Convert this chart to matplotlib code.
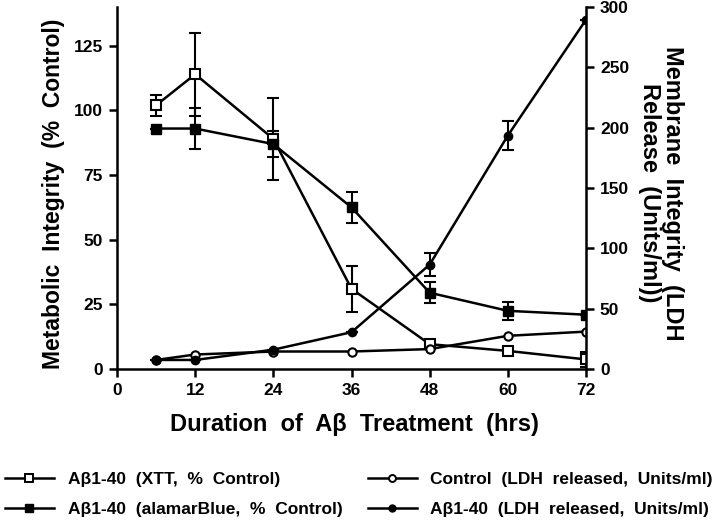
import matplotlib
matplotlib.use("Agg")
import matplotlib.pyplot as plt
from matplotlib.lines import Line2D

plt.rcParams['font.family'] = ['Liberation Sans', 'DejaVu Sans']
plt.rcParams['font.weight'] = 'bold'

hours = [6, 12, 24, 36, 48, 60, 72]

# metabolic integrity, % control (left axis)
xtt = [102, 114, 89, 31, 9.6, 7.0, 3.7]
xtt_err = [4, 16, 16, 9, 0, 0, 3]
alamar = [93, 93, 87, 62.5, 29.5, 22.5, 21]
alamar_err = [0, 8, 5, 6, 4, 3.5, 0]

# LDH released, units/ml (right axis)
ldh_ctrl = [7.5, 12, 14.5, 14.5, 16.5, 27.5, 31]
ldh_ab = [7.5, 7.5, 16, 30.5, 86.5, 193.5, 289.5]
ldh_ab_err = [0, 0, 0, 0, 9.5, 12, 0]

fig = plt.figure(figsize=(7.2, 5.24), dpi=100)
ax = fig.add_axes([0.1625, 0.2958, 0.6514, 0.6908])
ax2 = ax.twinx()

lw = 1.8
ax.errorbar(hours, xtt, yerr=xtt_err, color='black', lw=lw, marker='s', ms=7,
            mfc='white', mec='black', mew=1.5, capsize=4, elinewidth=1.5, capthick=1.5)
ax.errorbar(hours, alamar, yerr=alamar_err, color='black', lw=lw, marker='s', ms=7,
            mfc='black', mec='black', capsize=4, elinewidth=1.5, capthick=1.5)
ax2.plot(hours, ldh_ctrl, color='black', lw=lw, marker='o', ms=6,
         mfc='white', mec='black', mew=1.5)
ax2.errorbar(hours, ldh_ab, yerr=ldh_ab_err, color='black', lw=lw, marker='o', ms=6,
             mfc='black', mec='black', capsize=4, elinewidth=1.5, capthick=1.5)

ax.set_xlim(0, 72)
ax.set_ylim(0, 140)
ax2.set_ylim(0, 300)
ax.set_xticks([0, 12, 24, 36, 48, 60, 72])
ax.set_yticks([0, 25, 50, 75, 100, 125])
ax2.set_yticks([0, 50, 100, 150, 200, 250, 300])

for a in (ax, ax2):
    a.spines['top'].set_visible(False)
    for s in a.spines.values():
        s.set_linewidth(1.8)
    a.tick_params(width=1.8, length=6, labelsize=12.5, pad=4)
ax2.spines['left'].set_visible(False)
ax.spines['right'].set_visible(False)
ax2.spines['bottom'].set_visible(False)

fig.text(54 / 720, 1 - 194 / 524, 'Metabolic  Integrity  (%  Control)',
         rotation=90, ha='center', va='center', fontsize=16.5, fontweight='bold')
fig.text(661 / 720, 1 - 193 / 524, 'Membrane  Integrity  (LDH\nRelease  (Units/ml))',
         rotation=270, ha='center', va='center', fontsize=17, fontweight='bold',
         multialignment='center', linespacing=1.05)
fig.text(354 / 720, 1 - 424 / 524, 'Duration  of  Aβ  Treatment  (hrs)',
         ha='center', va='center', fontsize=17, fontweight='bold')

labels = ['Aβ1-40  (XTT,  %  Control)', 'Aβ1-40  (alamarBlue,  %  Control)',
          'Control  (LDH  released,  Units/ml)', 'Aβ1-40  (LDH  released,  Units/ml)']
handles = [
    Line2D([], [], color='black', lw=lw, marker='s', ms=6, mfc='white', mec='black', mew=1.4),
    Line2D([], [], color='black', lw=lw, marker='s', ms=6, mfc='black', mec='black'),
    Line2D([], [], color='black', lw=lw, marker='o', ms=5, mfc='white', mec='black', mew=1.4),
    Line2D([], [], color='black', lw=lw, marker='o', ms=5, mfc='black', mec='black'),
]
leg_kw = dict(loc='center left', frameon=False, fontsize=12.5, handlelength=2.8,
              handletextpad=0.8, labelspacing=0.85, borderaxespad=0, borderpad=0)
fig.legend(handles[:2], labels[:2], bbox_to_anchor=(5 / 720, 29.5 / 524), **leg_kw)
fig.legend(handles[2:], labels[2:], bbox_to_anchor=(368 / 720, 29.5 / 524), **leg_kw)

fig.savefig('out.png', dpi=100)
